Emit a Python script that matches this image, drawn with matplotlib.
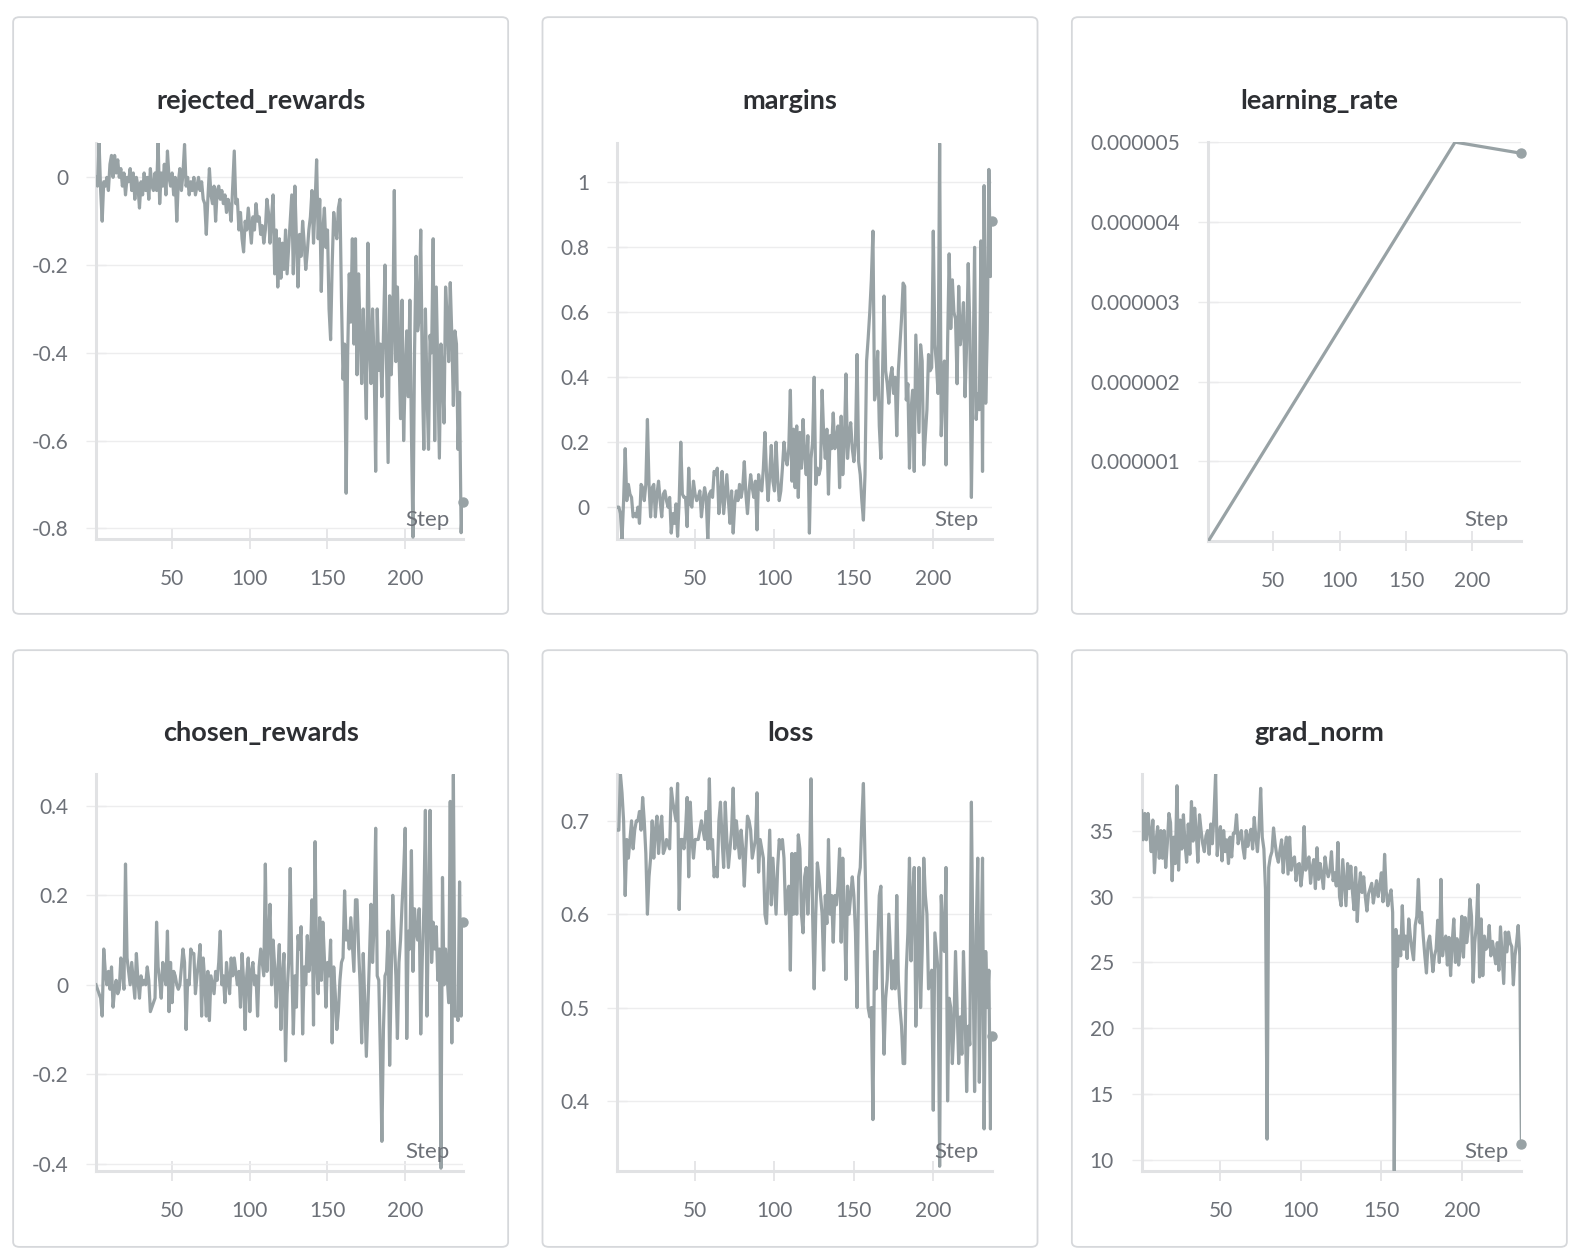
import matplotlib
matplotlib.use("Agg")
import matplotlib.pyplot as plt
from matplotlib.patches import FancyBboxPatch
import numpy as np

plt.rcParams['font.family'] = ['Lato', 'DejaVu Sans']

# ---------------- data ----------------
steps = list(range(1, 238))

rejected_rewards = [
    0.00, -0.02, 0.08, -0.03, -0.10, -0.01, -0.02, 0.00, -0.03, 0.03,
    0.05, 0.00, 0.05, 0.01, 0.04, 0.00, 0.02, -0.02, 0.01, -0.04,
    0.00, -0.01, 0.02, -0.03, 0.01, -0.05, 0.00, -0.02, -0.07, -0.01,
    -0.04, 0.01, -0.03, 0.00, -0.05, 0.02, -0.02, -0.03, 0.01, -0.03,
    0.08, -0.06, 0.01, -0.02, 0.03, -0.04, 0.06, 0.00, -0.02, 0.01,
    -0.04, 0.00, -0.10, -0.01, 0.02, -0.03, 0.01, 0.075, -0.02, 0.00,
    -0.04, -0.01, -0.03, 0.00, -0.04, -0.02, 0.00, -0.03, -0.01, -0.05,
    -0.06, -0.13, -0.05, 0.02, -0.04, -0.06, -0.02, -0.10, -0.03, -0.02,
    -0.05, -0.03, -0.06, -0.04, -0.08, -0.05, -0.07, -0.10, -0.02, 0.06,
    -0.06, -0.05, -0.12, -0.08, -0.14, -0.17, -0.10, -0.12, -0.07, -0.11,
    -0.15, -0.09, -0.12, -0.06, -0.10, -0.09, -0.13, -0.11, -0.15, -0.12,
    -0.05, -0.08, -0.15, -0.09, -0.04, -0.22, -0.12, -0.25, -0.14, -0.23,
    -0.15, -0.21, -0.12, -0.22, -0.16, -0.10, -0.04, -0.22, -0.02, -0.14,
    -0.25, -0.13, -0.18, -0.10, -0.15, -0.21, -0.17, -0.12, -0.09, -0.03,
    -0.15, -0.06, 0.04, -0.14, -0.05, -0.26, -0.12, -0.07, -0.16, -0.12,
    -0.30, -0.37, -0.20, -0.08, -0.12, -0.14, -0.07, -0.05, -0.28, -0.46,
    -0.38, -0.72, -0.40, -0.22, -0.33, -0.14, -0.38, -0.14, -0.45, -0.22,
    -0.36, -0.47, -0.30, -0.42, -0.55, -0.15, -0.38, -0.47, -0.30, -0.42,
    -0.67, -0.30, -0.44, -0.38, -0.50, -0.36, -0.20, -0.42, -0.65, -0.27,
    -0.45, -0.35, -0.03, -0.42, -0.25, -0.40, -0.55, -0.28, -0.60, -0.45,
    -0.35, -0.50, -0.28, -0.58, -0.82, -0.40, -0.18, -0.35, -0.32, -0.12,
    -0.45, -0.62, -0.30, -0.48, -0.62, -0.36, -0.40, -0.14, -0.60, -0.25,
    -0.45, -0.64, -0.38, -0.45, -0.56, -0.25, -0.32, -0.42, -0.24, -0.36,
    -0.52, -0.35, -0.38, -0.62, -0.49, -0.81, -0.74,
]

margins = [
    0.00, 0.00, -0.02, -0.10, 0.02, 0.18, 0.02, 0.07, 0.04, 0.03,
    -0.03, -0.02, -0.03, 0.00, -0.05, 0.07, 0.06, 0.02, 0.07, 0.27,
    0.07, -0.03, 0.06, 0.07, -0.03, 0.04, 0.08, 0.02, -0.03, 0.04,
    0.05, 0.02, 0.00, 0.03, -0.08, -0.02, -0.05, 0.01, -0.09, 0.02,
    0.20, 0.04, 0.03, 0.03, -0.06, 0.12, 0.01, 0.00, 0.08, 0.04,
    0.02, 0.03, 0.05, -0.03, 0.02, 0.06, 0.03, -0.10, 0.04, 0.05,
    0.03, 0.11, 0.10, 0.12, -0.02, 0.03, 0.11, -0.02, 0.04, 0.10,
    0.02, -0.05, 0.05, -0.08, 0.01, 0.05, 0.02, 0.07, 0.03, 0.06,
    0.14, 0.04, -0.02, 0.05, 0.10, 0.06, 0.03, 0.08, -0.07, 0.10,
    0.06, 0.05, 0.12, 0.23, 0.10, 0.02, 0.10, 0.19, 0.08, 0.05,
    0.20, 0.09, 0.02, 0.05, 0.12, 0.20, 0.15, 0.13, 0.18, 0.36,
    0.08, 0.24, 0.06, 0.25, 0.03, 0.23, 0.12, 0.27, 0.16, 0.10,
    0.22, -0.08, 0.15, 0.20, 0.40, 0.07, 0.12, 0.10, 0.12, 0.36,
    0.22, 0.15, 0.24, 0.04, 0.22, 0.18, 0.29, 0.18, 0.21, 0.25,
    0.06, 0.28, 0.10, 0.20, 0.41, 0.15, 0.22, 0.26, 0.18, 0.14,
    0.20, 0.47, 0.14, 0.10, 0.02, -0.04, 0.10, 0.45, 0.52, 0.60,
    0.70, 0.85, 0.33, 0.36, 0.48, 0.25, 0.15, 0.40, 0.65, 0.42,
    0.38, 0.32, 0.40, 0.43, 0.35, 0.40, 0.22, 0.42, 0.50, 0.58,
    0.69, 0.68, 0.33, 0.38, 0.12, 0.30, 0.36, 0.11, 0.53, 0.38,
    0.23, 0.50, 0.45, 0.13, 0.22, 0.30, 0.47, 0.42, 0.43, 0.85,
    0.50, 0.44, 0.35, 1.12, 0.22, 0.38, 0.45, 0.13, 0.50, 0.78,
    0.55, 0.70, 0.60, 0.58, 0.38, 0.68, 0.50, 0.55, 0.63, 0.34,
    0.50, 0.75, 0.55, 0.03, 0.40, 0.80, 0.27, 0.35, 0.30, 0.82,
    0.11, 0.99, 0.32, 0.54, 1.04, 0.71, 0.88,
]

lr_steps = [1, 187, 237]
learning_rate = [0.0, 5.0e-6, 4.86e-6]

chosen_rewards = [
    0.00, -0.01, -0.02, -0.03, -0.07, 0.08, 0.03, 0.00, 0.03, -0.01,
    0.04, -0.05, -0.01, 0.01, -0.02, -0.01, 0.06, 0.03, -0.01, 0.27,
    0.06, 0.03, 0.00, 0.05, 0.01, -0.03, 0.07, 0.01, -0.03, 0.02,
    0.00, 0.01, 0.00, 0.04, 0.01, -0.06, -0.05, -0.04, -0.03, 0.14,
    0.04, 0.01, -0.03, 0.05, 0.02, 0.00, 0.12, -0.06, 0.05, -0.04,
    0.03, 0.02, 0.00, -0.01, 0.00, 0.04, 0.08, 0.05, -0.10, 0.01,
    0.00, 0.08, 0.07, 0.07, -0.02, 0.02, 0.05, 0.09, -0.07, 0.06,
    0.01, -0.07, 0.03, -0.08, 0.02, 0.00, -0.02, 0.03, 0.01, 0.05,
    0.12, 0.00, 0.02, -0.04, 0.05, 0.01, -0.02, 0.06, 0.02, 0.06,
    0.03, 0.00, 0.03, -0.05, 0.07, 0.01, -0.10, 0.02, 0.06, -0.06,
    0.03, 0.05, 0.00, 0.02, -0.07, 0.04, 0.08, 0.05, 0.02, 0.27,
    0.03, 0.10, 0.18, 0.00, 0.10, 0.04, -0.05, 0.03, 0.09, -0.10,
    0.02, 0.07, -0.17, -0.02, 0.05, 0.26, 0.05, -0.11, 0.02, -0.05,
    0.11, 0.08, 0.13, -0.11, 0.04, 0.00, 0.11, 0.03, 0.06, 0.19,
    -0.09, 0.32, 0.05, -0.02, 0.15, 0.01, 0.14, 0.06, -0.05, 0.05,
    0.02, 0.10, -0.13, 0.04, -0.02, -0.10, -0.06, 0.01, 0.05, 0.06,
    0.21, 0.10, 0.12, 0.08, 0.15, 0.09, 0.03, 0.19, 0.19, 0.08,
    0.00, -0.13, 0.07, -0.04, -0.16, -0.05, 0.06, 0.18, 0.05, 0.14,
    0.35, 0.02, 0.01, -0.15, -0.35, -0.10, 0.02, 0.03, 0.12, -0.18,
    0.02, 0.20, 0.10, 0.02, -0.12, 0.05, 0.10, 0.18, 0.25, 0.35,
    -0.12, 0.12, 0.08, 0.30, 0.03, 0.17, 0.12, 0.10, 0.17, -0.11,
    0.06, 0.17, 0.39, -0.07, 0.15, 0.39, 0.05, 0.14, 0.08, 0.13,
    0.01, 0.08, -0.41, 0.24, 0.00, 0.08, 0.02, -0.04, 0.41, -0.13,
    0.47, -0.07, -0.06, -0.08, 0.23, -0.07, 0.14,
]

loss = [
    0.69, 0.69, 0.75, 0.73, 0.70, 0.62, 0.68, 0.66, 0.68, 0.70,
    0.67, 0.69, 0.70, 0.70, 0.71, 0.69, 0.725, 0.70, 0.665, 0.60,
    0.64, 0.66, 0.70, 0.66, 0.69, 0.705, 0.665, 0.69, 0.705, 0.665,
    0.67, 0.68, 0.675, 0.67, 0.735, 0.72, 0.71, 0.70, 0.74, 0.605,
    0.68, 0.68, 0.67, 0.69, 0.725, 0.64, 0.72, 0.68, 0.66, 0.68,
    0.68, 0.68, 0.69, 0.70, 0.69, 0.68, 0.71, 0.67, 0.745, 0.67,
    0.68, 0.64, 0.65, 0.64, 0.70, 0.72, 0.68, 0.65, 0.72, 0.68,
    0.65, 0.67, 0.69, 0.735, 0.67, 0.70, 0.68, 0.66, 0.69, 0.67,
    0.63, 0.67, 0.705, 0.70, 0.69, 0.66, 0.67, 0.68, 0.73, 0.645,
    0.68, 0.67, 0.66, 0.60, 0.59, 0.64, 0.69, 0.61, 0.66, 0.63,
    0.60, 0.65, 0.68, 0.67, 0.68, 0.66, 0.60, 0.62, 0.63, 0.54,
    0.665, 0.60, 0.665, 0.60, 0.685, 0.67, 0.60, 0.58, 0.64, 0.65,
    0.60, 0.64, 0.745, 0.60, 0.52, 0.60, 0.655, 0.64, 0.62, 0.60,
    0.54, 0.62, 0.59, 0.68, 0.60, 0.62, 0.57, 0.62, 0.61, 0.63,
    0.67, 0.57, 0.66, 0.60, 0.53, 0.63, 0.60, 0.62, 0.64, 0.62,
    0.58, 0.50, 0.64, 0.65, 0.70, 0.74, 0.66, 0.58, 0.50, 0.49,
    0.50, 0.38, 0.56, 0.52, 0.57, 0.62, 0.63, 0.52, 0.45, 0.51,
    0.53, 0.60, 0.56, 0.52, 0.55, 0.52, 0.62, 0.53, 0.50, 0.48,
    0.44, 0.44, 0.54, 0.58, 0.66, 0.55, 0.62, 0.65, 0.48, 0.55,
    0.65, 0.50, 0.56, 0.66, 0.62, 0.60, 0.52, 0.53, 0.54, 0.39,
    0.58, 0.56, 0.54, 0.33, 0.62, 0.58, 0.56, 0.65, 0.40, 0.51,
    0.50, 0.44, 0.48, 0.56, 0.50, 0.44, 0.49, 0.45, 0.56, 0.50,
    0.41, 0.48, 0.46, 0.72, 0.55, 0.41, 0.58, 0.66, 0.42, 0.55,
    0.66, 0.37, 0.56, 0.50, 0.54, 0.37, 0.47,
]

grad_norm = [
    36.5, 34.3, 36.3, 34.3, 36.3, 35.0, 33.4, 35.8, 31.8, 34.2,
    35.3, 32.9, 35.0, 32.9, 35.0, 32.2, 34.0, 36.3, 35.6, 31.2,
    34.5, 32.5, 38.4, 32.0, 35.8, 33.6, 36.2, 34.0, 32.6, 35.5,
    33.2, 37.2, 34.2, 36.7, 34.8, 32.6, 36.2, 35.0, 34.0, 33.4,
    34.6, 35.0, 33.2, 35.5, 34.0, 36.2, 39.3, 33.1, 34.6, 35.3,
    32.7, 35.0, 33.4, 34.3, 32.5, 34.5, 33.0, 34.8, 34.8, 36.2,
    34.0, 34.6, 35.0, 33.7, 32.9, 35.0, 33.8, 34.6, 35.1, 33.6,
    36.0, 34.5, 33.4, 35.2, 38.2, 34.5, 33.6, 30.5, 11.6, 32.2,
    33.0, 33.4, 35.2, 34.0, 33.1, 32.6, 33.5, 34.3, 31.8, 33.6,
    34.5, 31.7, 34.5, 32.0, 32.8, 33.0, 31.2, 32.4, 32.5, 30.8,
    31.9, 35.3, 32.0, 32.6, 33.0, 31.0, 32.2, 32.8, 30.6, 33.7,
    31.3, 32.5, 31.6, 30.6, 33.0, 32.0, 31.5, 32.0, 33.4, 31.2,
    31.8, 30.8, 34.1, 30.0, 29.3, 32.8, 31.0, 29.3, 32.5, 30.6,
    32.3, 30.4, 29.0, 32.2, 28.1, 30.5, 31.8, 30.3, 31.5, 30.0,
    28.9, 30.2, 30.6, 31.0, 29.5, 30.4, 31.2, 30.0, 30.8, 31.8,
    29.6, 33.2, 30.4, 29.3, 30.0, 30.5, 28.8, 9.2, 27.5, 24.7,
    27.0, 25.5, 29.3, 26.0, 27.0, 25.3, 28.3, 27.0, 26.0, 25.2,
    27.8, 28.5, 31.3, 28.0, 28.8, 27.0, 25.5, 24.2, 26.5, 27.0,
    25.8, 24.3, 25.5, 26.0, 28.2, 25.0, 31.3, 25.5, 26.5, 27.0,
    24.8, 26.9, 24.0, 26.5, 28.3, 25.0, 26.8, 24.8, 26.0, 28.5,
    25.4, 28.4, 26.5, 27.5, 29.8, 28.5, 23.5, 26.5, 27.8, 30.9,
    23.9, 28.3, 24.0, 27.0, 26.0, 26.2, 27.8, 25.5, 26.6, 25.8,
    24.9, 26.5, 24.4, 27.7, 25.5, 23.4, 27.3, 25.8, 27.3, 26.5,
    26.2, 23.3, 25.5, 26.5, 27.8, 25.5, 11.2,
]

x_ticks = [50, 100, 150, 200]
x_tick_labels = ["50", "100", "150", "200"]

titles = ["rejected_rewards", "margins", "learning_rate",
          "chosen_rewards", "loss", "grad_norm"]

y_ticks = [
    [0, -0.2, -0.4, -0.6, -0.8],
    [0, 0.2, 0.4, 0.6, 0.8, 1.0],
    [1e-6, 2e-6, 3e-6, 4e-6, 5e-6],
    [0.4, 0.2, 0, -0.2, -0.4],
    [0.7, 0.6, 0.5, 0.4],
    [35, 30, 25, 20, 15, 10],
]
y_tick_labels = [
    ["0", "-0.2", "-0.4", "-0.6", "-0.8"],
    ["0", "0.2", "0.4", "0.6", "0.8", "1"],
    ["0.000001", "0.000002", "0.000003", "0.000004", "0.000005"],
    ["0.4", "0.2", "0", "-0.2", "-0.4"],
    ["0.7", "0.6", "0.5", "0.4"],
    ["35", "30", "25", "20", "15", "10"],
]
y_limits = [
    (-0.825, 0.078),
    (-0.099, 1.121),
    (0.0, 5.0e-6),
    (-0.417, 0.471),
    (0.3246, 0.75),
    (9.16, 39.28),
]

series = [
    (steps, rejected_rewards),
    (steps, margins),
    (lr_steps, learning_rate),
    (steps, chosen_rewards),
    (steps, loss),
    (steps, grad_norm),
]

# ---------------- layout (reference pixel space) ----------------
W0, H0 = 1564.0, 1250.0
fig = plt.figure(figsize=(15.8, 12.6), dpi=100)
fig.patch.set_facecolor("white")

def fxy(x, y):
    return x / W0, 1 - y / H0

boxes = [(13, 17, 503, 609), (537, 17, 1027, 609), (1061, 17, 1551, 609),
         (13, 645, 503, 1237), (537, 645, 1027, 1237), (1061, 645, 1551, 1237)]
axes_px = [(95, 142, 458, 535), (611, 142, 982, 535), (1196, 141, 1506, 537),
           (95, 768, 458, 1162), (611, 768, 982, 1162), (1130, 768, 1506, 1162)]
title_y = [100, 100, 100, 727, 727, 727]
step_y = [516, 516, 516, 1143, 1143, 1143]

LINE = "#98a2a5"
SPINE = "#e1e2e4"
GRID = "#ededee"
TICKC = "#6d7178"
TITLEC = "#2d2f33"

for (bx0, by0, bx1, by1) in boxes:
    x0, y1 = fxy(bx0, by1)
    w = (bx1 - bx0) / W0
    h = (by1 - by0) / H0
    patch = FancyBboxPatch((x0, y1), w, h,
                           boxstyle="round,pad=0,rounding_size=0.004",
                           transform=fig.transFigure, facecolor="none",
                           edgecolor="#d6d8db", linewidth=1.3, zorder=-5)
    fig.patches.append(patch)

for i in range(6):
    l, t, r, b = axes_px[i]
    x0, y0 = fxy(l, b)
    ax = fig.add_axes([x0, y0, (r - l) / W0, (b - t) / H0], zorder=2)
    ax.set_facecolor("none")
    xs, ys = series[i]
    ax.plot(xs, ys, color=LINE, lw=2.3, solid_joinstyle="round", zorder=3)
    ax.plot([xs[-1]], [ys[-1]], "o", ms=6.5, color=LINE, clip_on=False, zorder=4)
    ax.set_xlim(1, 237)
    ax.set_ylim(*y_limits[i])
    ax.set_xticks(x_ticks, x_tick_labels)
    ax.set_yticks(y_ticks[i], y_tick_labels[i])
    ax.yaxis.grid(True, color=GRID, lw=1.0, zorder=0)
    ax.xaxis.grid(False)
    ax.set_axisbelow(True)
    for s in ["top", "right"]:
        ax.spines[s].set_visible(False)
    for s in ["left", "bottom"]:
        ax.spines[s].set_color(SPINE)
        ax.spines[s].set_linewidth(2.2)
    ax.tick_params(axis="x", direction="inout", length=14, width=1.2,
                   color=SPINE, labelcolor=TICKC, labelsize=15, pad=14.5)
    ax.tick_params(axis="y", direction="inout", length=14, width=1.0,
                   color="#ebebec", labelcolor=TICKC, labelsize=15, pad=13)
    # title
    bx0, by0, bx1, by1 = boxes[i]
    tx, ty = fxy((bx0 + bx1) / 2, title_y[i])
    fig.text(tx, ty, titles[i], ha="center", va="center", fontsize=19.5,
             fontweight="bold", color=TITLEC, zorder=5)
    sx, sy = fxy(r - 13, step_y[i])
    fig.text(sx, sy, "Step", ha="right", va="center", fontsize=16,
             color=TICKC, zorder=5)

fig.savefig("out.png", dpi=100, facecolor="white")
